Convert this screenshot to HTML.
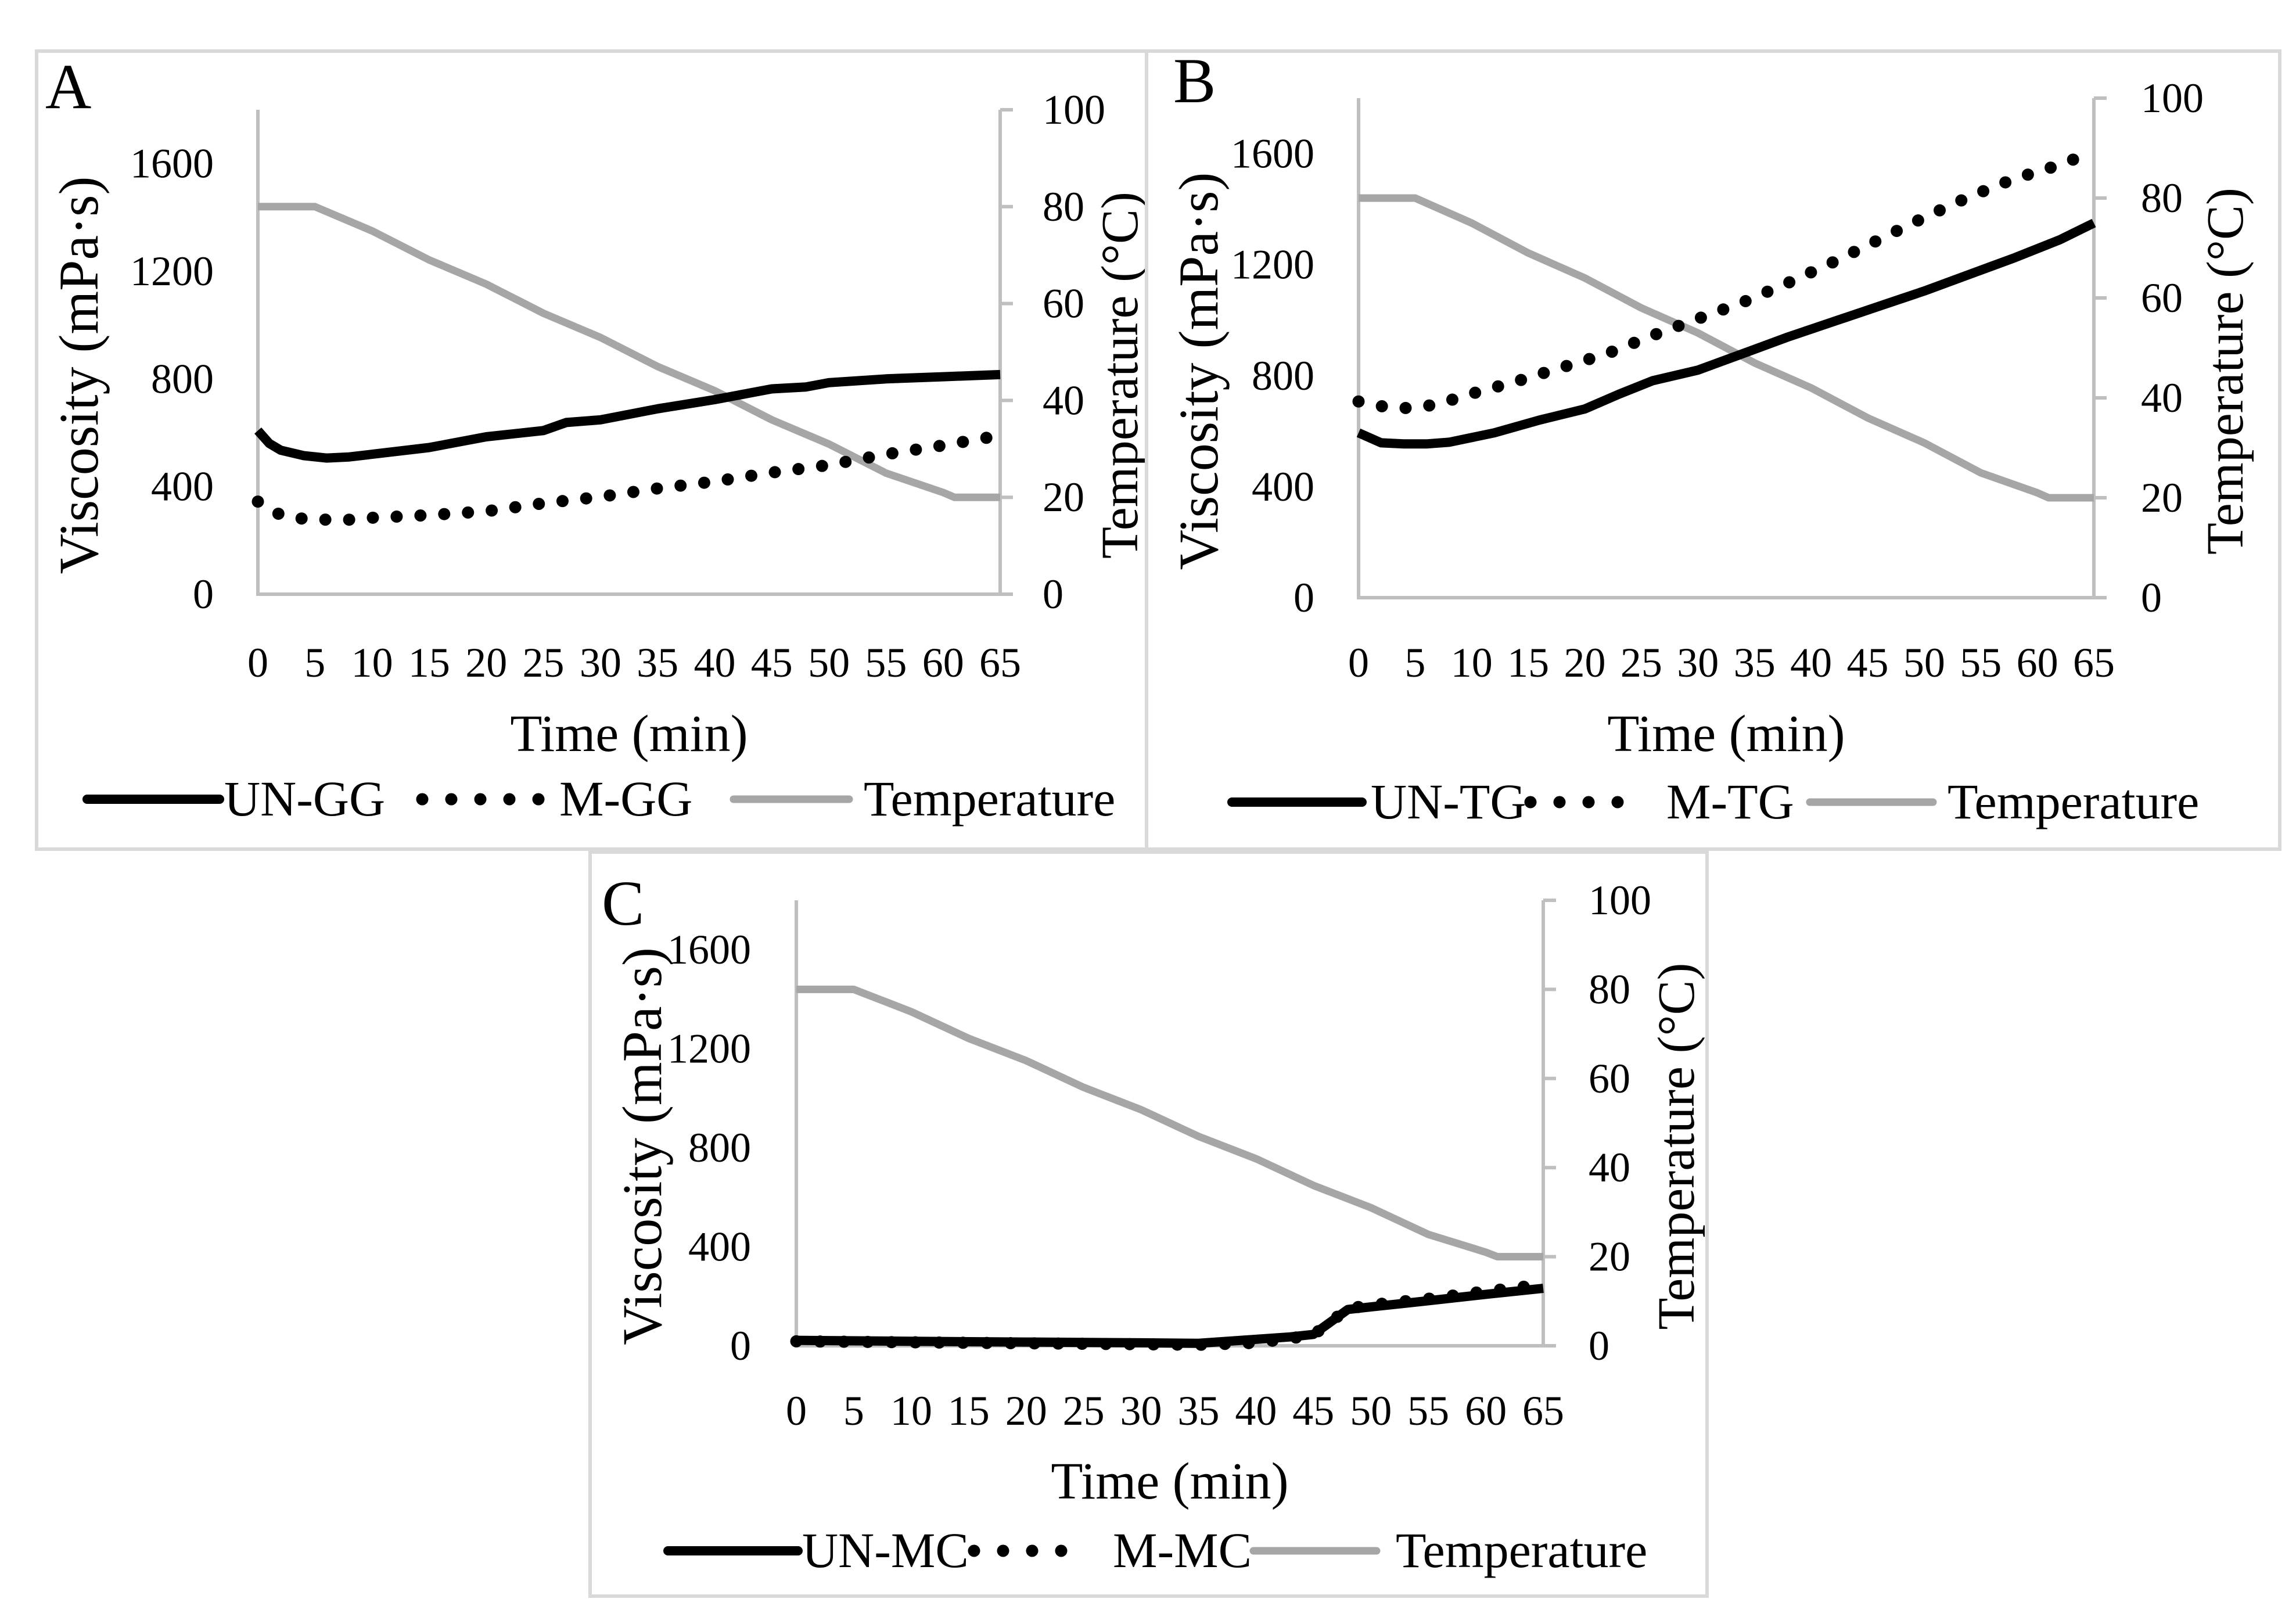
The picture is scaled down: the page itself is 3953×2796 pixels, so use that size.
<!DOCTYPE html>
<html><head><meta charset="utf-8"><style>
html,body{margin:0;padding:0;background:#fff;}
svg{display:block;font-family:"Liberation Serif",serif;}
</style></head><body>
<svg id="fig" width="3953" height="2796" viewBox="0 0 3953 2796" xmlns="http://www.w3.org/2000/svg"></svg>
<script>
// Shared
const timeTicks = [0,5,10,15,20,25,30,35,40,45,50,55,60,65];
const viscTicks = [0,400,800,1200,1600];
const tempTicks = [0,20,40,60,80,100];
const tempTime = [0,5,10,15,20,25,30,35,40,45,50,55,60,61,65];
const tempVals = [80,80,75,69,64,58,53,47,42,36,31,25,21,20,20];
// Panel A
const aTime = [0,1,2,4,6,8,10,15,20,25,27,30,35,40,45,48,50,55,60,65];
const aUN = [608,560,535,515,506,510,520,545,585,608,638,648,689,723,763,770,786,800,808,816];
const aMTime = [0,2,4,6,8,10,15,20,25,30,35,40,45,50,55,60,65];
const aM = [344,294,280,277,277,284,294,308,338,362,393,419,452,480,520,553,590];
// Panel B
const bTime = [0,2,4,6,8,12,16,20,23,26,30,34,38,42,46,50,54,58,62,65];
const bUN = [594,558,554,554,560,594,640,680,733,782,820,880,940,995,1050,1105,1165,1225,1290,1350];
const bMTime = [0,2,4,6,8,10,14,18,22,26,30,34,38,42,46,50,54,58,62,65];
const bM = [707,690,683,690,710,735,780,830,880,945,1005,1065,1135,1210,1290,1370,1445,1510,1560,1608];
// Panel C
const cTime = [0,10,20,30,35,40,43,45,48,50,55,60,65];
const cUN = [22,18,15,12,10,26,36,46,147,157,182,208,232];
const cM = [18,14,10,6,4,12,30,44,150,165,190,220,248];

const svg=document.getElementById('fig');
const NS='http://www.w3.org/2000/svg';
function mk(tag,attrs,parent){const e=document.createElementNS(NS,tag);for(const k in attrs)e.setAttribute(k,attrs[k]);(parent||svg).appendChild(e);return e;}
function txt(s,attrs,parent){const e=mk('text',attrs,parent);e.textContent=s;return e;}

function panel(cfg){
  const g=mk('g',{});
  
  
  const box=mk('rect',{x:cfg.box[0],y:cfg.box[1],width:cfg.box[2]-cfg.box[0],height:cfg.box[3]-cfg.box[1],fill:'none',stroke:'#d9d9d9','stroke-width':6},g);
  
  
  const L=cfg.L,R=cfg.R,Y0=cfg.Y0,YT=cfg.YT;
  const xs=t=>L+(R-L)*t/65;
  const yv=v=>Y0-(Y0-YT)*v/1800;
  const yt=v=>Y0-(Y0-YT)*v/100;
  const lt=txt(cfg.letter,{x:cfg.lx,y:cfg.ly,'font-size':110,fill:'#000'},g);
  
  
  const ax=mk('path',{d:`M${L},${YT} L${L},${Y0} L${R},${Y0} M${R},${YT} L${R},${Y0}`,stroke:'#bfbfbf','stroke-width':6,fill:'none'},g);
  
  
  tempTicks.forEach(v=>{mk('line',{x1:R,x2:R+22,y1:yt(v),y2:yt(v),stroke:'#bfbfbf','stroke-width':6},g);
    const t=txt(String(v),{x:cfg.rtx,y:yt(v)+24,'font-size':72},g);
    
    });
  viscTicks.forEach(v=>{const t=txt(String(v),{x:cfg.ltx,y:yv(v)+24,'font-size':72,'text-anchor':'end'},g);
    
    });
  timeTicks.forEach(v=>{const t=txt(String(v),{x:xs(v),y:cfg.xty,'font-size':72,'text-anchor':'middle'},g);
    
    });
  const xt=txt('Time (min)',{x:(L+R)/2,y:cfg.xtitle,'font-size':90,'text-anchor':'middle'},g);
  
  
  const cy=(Y0+YT)/2+40;
  const vt=txt('Viscosity (mPa·s)',{x:0,y:0,'font-size':96,'text-anchor':'middle',transform:`translate(${cfg.vtx},${cy}) rotate(-90)`},g);
  
  
  const tt=txt('Temperature (°C)',{x:0,y:0,'font-size':90,'text-anchor':'middle',transform:`translate(${cfg.ttx},${cy}) rotate(-90)`},g);
  
  
  const pts=(ts,vs,f)=>ts.map((t,i)=>xs(t).toFixed(1)+','+f(vs[i]).toFixed(1)).join(' ');
  const tl=mk('polyline',{points:pts(tempTime,tempVals,yt),fill:'none',stroke:'#a6a6a6','stroke-width':13,'stroke-linejoin':'round'},g);
  
  
  const ul=mk('polyline',{points:pts(cfg.uT,cfg.un,yv),fill:'none',stroke:'#000','stroke-width':16,'stroke-linejoin':'round'},g);
  
  
  const ml=mk('polyline',{points:pts(cfg.mT,cfg.m,yv),fill:'none',stroke:'#000','stroke-width':21,'stroke-linecap':'round','stroke-dasharray':'0 41'},g);
  
  
  const ly=cfg.legY, lg=cfg.leg;
  const l1=mk('line',{x1:lg[0],x2:lg[1],y1:ly,y2:ly,stroke:'#000','stroke-width':16,'stroke-linecap':'round'},g);
  
  
  const e1=txt(cfg.names[0],{x:lg[2],y:ly+28,'font-size':86},g);
  
  
  const l2=mk('line',{x1:lg[3],x2:lg[4],y1:ly,y2:ly,stroke:'#000','stroke-width':21,'stroke-linecap':'round','stroke-dasharray':'0 50'},g);
  
  
  const e2=txt(cfg.names[1],{x:lg[5],y:ly+28,'font-size':86},g);
  
  
  const l3=mk('line',{x1:lg[6],x2:lg[7],y1:ly,y2:ly,stroke:'#a6a6a6','stroke-width':13,'stroke-linecap':'round'},g);
  
  
  const e3=txt('Temperature',{x:lg[8],y:ly+28,'font-size':86},g);
  
  
}
panel({letter:'A',box:[63,88,1974,1462],L:444,R:1722,Y0:1023,YT:189,lx:78,ly:186,ltx:368,rtx:1795,xty:1165,xtitle:1293,vtx:168,ttx:1958,
  uT:aTime,un:aUN,mT:aMTime,m:aM,names:['UN-GG','M-GG'],legY:1376,leg:[150,378,386,727,933,963,1263,1462,1487]});
panel({letter:'B',box:[1974,88,3925,1462],L:2339,R:3605,Y0:1029,YT:169,lx:2020,ly:176,ltx:2263,rtx:3686,xty:1165,xtitle:1293,vtx:2096,ttx:3861,
  uT:bTime,un:bUN,mT:bMTime,m:bM,names:['UN-TG','M-TG'],legY:1381,leg:[2121,2345,2360,2635,2823,2869,3116,3328,3353]});
panel({letter:'C',box:[1016,1467,2939,2748],L:1371,R:2657,Y0:2317,YT:1550,lx:1036,ly:1592,ltx:1293,rtx:2735,xty:2453,xtitle:2580,vtx:1138,ttx:2916,
  uT:cTime,un:cUN,mT:cTime,m:cM,names:['UN-MC','M-MC'],legY:2670,leg:[1150,1374,1381,1677,1866,1916,2158,2370,2403]});
</script>
</body></html>
